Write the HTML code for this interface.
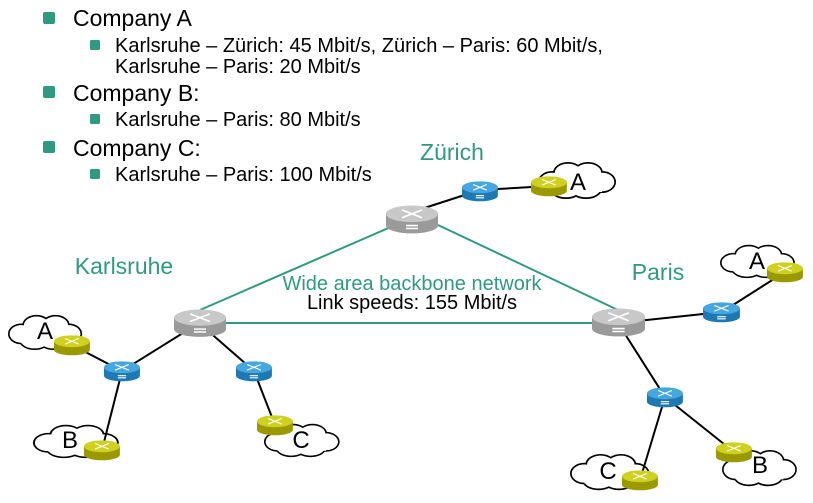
<!DOCTYPE html>
<html><head><meta charset="utf-8"><style>
html,body{margin:0;padding:0;background:#fff;width:813px;height:503px;overflow:hidden}
svg{display:block;font-family:"Liberation Sans",sans-serif}
</style></head><body>
<svg width="813" height="503" viewBox="0 0 813 503" xmlns="http://www.w3.org/2000/svg">
<defs>
<g id="cr"><path d="M0 9 L0 21 A26 8 0 0 0 52 21 L52 9 Z" fill="#9a9a9a"/><ellipse cx="26" cy="9" rx="26" ry="8.5" fill="#c8c8c8"/>
<path d="M16 5 L36 13 M36 5 L16 13 M20 21 h12 M20 24 h12" stroke="#fff" stroke-width="1.6" fill="none"/></g>
<g id="cb"><path d="M0 9 L0 21 A26 8 0 0 0 52 21 L52 9 Z" fill="#1e78b4"/><ellipse cx="26" cy="9" rx="26" ry="8.5" fill="#46a6e0"/>
<path d="M16 5 L36 13 M36 5 L16 13 M20 21 h12 M20 24 h12" stroke="#fff" stroke-width="1.6" fill="none"/></g>
<g id="cy"><path d="M0 9 L0 21 A26 8 0 0 0 52 21 L52 9 Z" fill="#9a9a00"/><ellipse cx="26" cy="9" rx="26" ry="8.5" fill="#d0d020"/>
<path d="M16 5 L36 13 M36 5 L16 13" stroke="#fff" stroke-width="1.6" fill="none"/></g>
<g id="cl">
<g fill="#fff" stroke="#000" stroke-width="2"><ellipse cx="14" cy="22" rx="13" ry="10"/><ellipse cx="30" cy="13" rx="14" ry="10"/><ellipse cx="50" cy="13" rx="14" ry="10"/><ellipse cx="64" cy="22" rx="13" ry="10"/><ellipse cx="48" cy="29" rx="15" ry="9"/><ellipse cx="28" cy="29" rx="15" ry="9"/></g>
<g fill="#fff"><ellipse cx="14" cy="22" rx="12.3" ry="9.3"/><ellipse cx="30" cy="13" rx="13.3" ry="9.3"/><ellipse cx="50" cy="13" rx="13.3" ry="9.3"/><ellipse cx="64" cy="22" rx="12.3" ry="9.3"/><ellipse cx="48" cy="29" rx="14.3" ry="8.3"/><ellipse cx="28" cy="29" rx="14.3" ry="8.3"/><rect x="14" y="14" width="50" height="18"/></g>
</g>
</defs>
<g fill="#2e9a80">
<rect x="43" y="12" width="12" height="12" rx="2"/><rect x="43" y="86" width="12" height="12" rx="2"/><rect x="43" y="141" width="12" height="12" rx="2"/>
<rect x="90" y="40" width="10" height="10" rx="1.5"/><rect x="90" y="114" width="10" height="10" rx="1.5"/><rect x="90" y="169" width="10" height="10" rx="1.5"/>
</g>
<g fill="#000">
<text x="73" y="26" font-size="23">Company A</text>
<text x="115" y="52" font-size="20">Karlsruhe – Zürich: 45 Mbit/s, Zürich – Paris: 60 Mbit/s,</text>
<text x="115" y="73" font-size="20">Karlsruhe – Paris: 20 Mbit/s</text>
<text x="73" y="101" font-size="23">Company B:</text>
<text x="115" y="126" font-size="20">Karlsruhe – Paris: 80 Mbit/s</text>
<text x="73" y="156" font-size="23">Company C:</text>
<text x="115" y="181" font-size="20">Karlsruhe – Paris: 100 Mbit/s</text>
</g>
<g fill="#2e9a80" font-size="23">
<text x="452" y="160" text-anchor="middle">Zürich</text>
<text x="124" y="274" text-anchor="middle">Karlsruhe</text>
<text x="658" y="280" text-anchor="middle">Paris</text>
<text x="412" y="290" text-anchor="middle" font-size="20">Wide area backbone network</text>
</g>
<text x="412" y="309" text-anchor="middle" font-size="20">Link speeds: 155 Mbit/s</text>
<use href="#cl" transform="translate(538,160)"/>
<use href="#cl" transform="translate(8,313) scale(0.95,0.95)"/>
<use href="#cl" transform="translate(33,423) scale(1.1,0.9)"/>
<use href="#cl" transform="translate(264,422) scale(0.97,0.9)"/>
<use href="#cl" transform="translate(720,243) scale(0.96,0.9)"/>
<use href="#cl" transform="translate(722,448) scale(0.96,0.98)"/>
<use href="#cl" transform="translate(570,452) scale(1.02,0.98)"/>
<g stroke="#2e9a80" stroke-width="2">
<line x1="393" y1="226" x2="200" y2="310"/><line x1="438" y1="225" x2="618" y2="310"/><line x1="226" y1="323" x2="592" y2="323"/>
</g>
<g stroke="#000" stroke-width="2">
<line x1="412" y1="212" x2="480" y2="190"/><line x1="480" y1="190" x2="549" y2="186"/>
<line x1="199" y1="323" x2="122" y2="371"/><line x1="199" y1="323" x2="254" y2="371"/>
<line x1="122" y1="371" x2="72" y2="345"/><line x1="122" y1="371" x2="102" y2="450"/>
<line x1="254" y1="371" x2="275" y2="425"/>
<line x1="618" y1="323" x2="722" y2="312"/><line x1="722" y1="312" x2="785" y2="272"/>
<line x1="618" y1="323" x2="665" y2="397"/><line x1="665" y1="397" x2="734" y2="452"/><line x1="665" y1="397" x2="640" y2="480"/>
</g>
<use href="#cr" transform="translate(386,205) scale(1,0.98)"/>
<use href="#cr" transform="translate(174,309) scale(1,0.96)"/>
<use href="#cr" transform="translate(592,308) scale(1.02,0.98)"/>
<use href="#cb" transform="translate(462,181) scale(0.69,0.7)"/>
<use href="#cb" transform="translate(104,361) scale(0.69,0.7)"/>
<use href="#cb" transform="translate(236,361) scale(0.69,0.7)"/>
<use href="#cb" transform="translate(703,302) scale(0.71,0.7)"/>
<use href="#cb" transform="translate(647,387) scale(0.69,0.7)"/>
<use href="#cy" transform="translate(531,176) scale(0.69,0.7)"/>
<use href="#cy" transform="translate(54,335) scale(0.69,0.7)"/>
<use href="#cy" transform="translate(84,440) scale(0.69,0.7)"/>
<use href="#cy" transform="translate(257,415) scale(0.69,0.7)"/>
<use href="#cy" transform="translate(767,262) scale(0.69,0.7)"/>
<use href="#cy" transform="translate(716,442) scale(0.69,0.7)"/>
<use href="#cy" transform="translate(622,470) scale(0.69,0.7)"/>
<g font-size="24" fill="#000" text-anchor="middle">
<text x="578" y="190">A</text><text x="45" y="339">A</text><text x="70" y="448">B</text><text x="301" y="448">C</text>
<text x="757" y="269">A</text><text x="760" y="473">B</text><text x="608" y="479">C</text>
</g>
</svg>
</body></html>
